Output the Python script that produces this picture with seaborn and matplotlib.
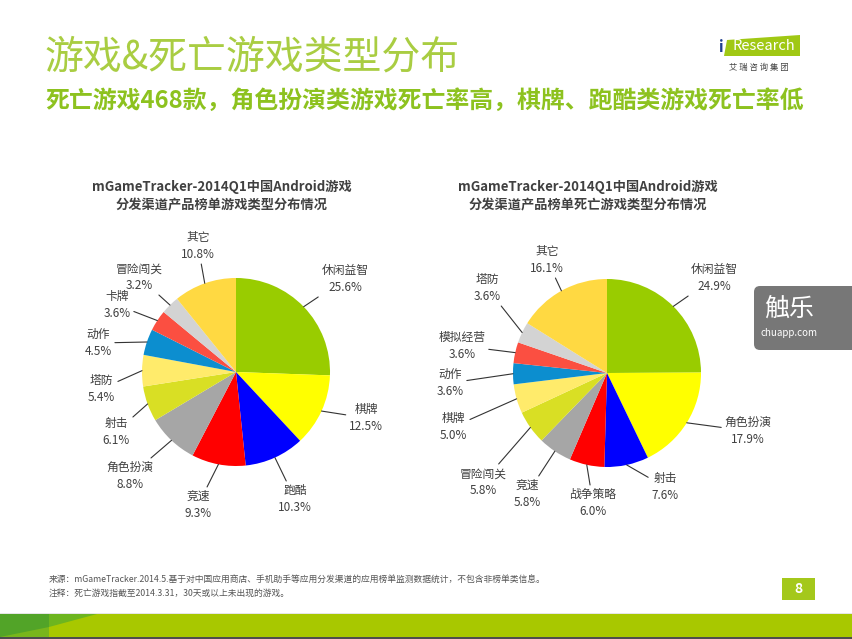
import numpy as np
import seaborn as sns
import matplotlib.pyplot as plt
from matplotlib.patches import Rectangle, Polygon, FancyBboxPatch

# data
left_labels = ["休闲益智", "棋牌", "跑酷", "竞速", "角色扮演", "射击",
               "塔防", "动作", "卡牌", "冒险闯关", "其它"]
left_values = [25.6, 12.5, 10.3, 9.3, 8.8, 6.1, 5.4, 4.5, 3.6, 3.2, 10.8]

right_labels = ["休闲益智", "角色扮演", "射击", "战争策略", "竞速", "冒险闯关",
                "棋牌", "动作", "模拟经营", "塔防", "其它"]
right_values = [24.9, 17.9, 7.6, 6.0, 5.8, 5.8, 5.0, 3.6, 3.6, 3.6, 16.1]

slice_colors = ["#99cc00", "#ffff00", "#0000ff", "#ff0000", "#a6a6a6",
                "#d9df24", "#ffeb6b", "#0c8ecf", "#fb4f41", "#d3d3d3",
                "#ffd942"]

left_title = ["mGameTracker-2014Q1中国Android游戏", "分发渠道产品榜单游戏类型分布情况"]
right_title = ["mGameTracker-2014Q1中国Android游戏", "分发渠道产品榜单死亡游戏类型分布情况"]

# label anchor positions in pixels (top-left origin)
left_label_pos = [(345, 279), (366, 418), (295, 499), (198, 505), (130, 476),
                  (116, 432), (101, 389), (98, 343), (117, 305), (139, 277),
                  (198, 246)]
right_label_pos = [(714, 278), (748, 431), (665, 487), (593, 503), (527, 494),
                   (483, 482), (453, 427), (450, 383), (462, 346), (487, 288),
                   (547, 260)]

W, H = 852, 639
TXT = "#404040"


def draw_pie(ax, values, labels, center, radius, label_pos, title, title_x):
    wedges, _ = ax.pie(values, colors=sns.color_palette(slice_colors),
                       center=center, radius=radius, startangle=-90,
                       counterclock=True, wedgeprops=dict(linewidth=0))
    for w, name, v, pos in zip(wedges, labels, values, label_pos):
        theta = np.deg2rad((w.theta1 + w.theta2) / 2)
        edge = (center[0] + radius * np.cos(theta),
                center[1] + radius * np.sin(theta))
        ax.annotate("{}\n{:.1f}%".format(name, v), xy=edge, xytext=pos,
                    ha="center", va="center", fontsize=8.5, color=TXT,
                    linespacing=1.35,
                    arrowprops=dict(arrowstyle="-", color="#333333", lw=0.8,
                                    shrinkA=0, shrinkB=0))
    ax.text(title_x, 187, title[0], ha="center", va="center", fontsize=9.5,
            color=TXT, fontweight="bold")
    ax.text(title_x, 205, title[1], ha="center", va="center", fontsize=9.5,
            color=TXT, fontweight="bold")


def main():
    sns.set_theme(style="white")
    plt.rcParams["font.family"] = ["Noto Sans CJK SC", "DejaVu Sans"]

    fig = plt.figure(figsize=(W / 100, H / 100), dpi=100)
    ax = fig.add_axes([0, 0, 1, 1])

    draw_pie(ax, left_values, left_labels, (236, 372), 94, left_label_pos,
             left_title, 222)
    draw_pie(ax, right_values, right_labels, (607, 373), 94, right_label_pos,
             right_title, 588)

    ax.set_xlim(0, W)
    ax.set_ylim(H, 0)
    ax.set_aspect("equal")
    ax.axis("off")

    # headline
    ax.text(45, 57, "游戏&死亡游戏类型分布", fontsize=28, color="#a9cd42",
            ha="left", va="center", fontweight="light")
    ax.text(45, 101, "死亡游戏468款，角色扮演类游戏死亡率高，棋牌、跑酷类游戏死亡率低",
            fontsize=17.2, color="#8dc21f", fontweight="bold",
            ha="left", va="center")

    # iResearch logo
    ax.add_patch(Polygon([(727, 40), (800, 35), (800, 56), (724, 56)],
                         closed=True, color="#a0c814", lw=0))
    ax.text(721, 47, "i", fontsize=11, color="#1f3f8f", ha="center",
            va="center", fontweight="bold")
    ax.text(764, 46, "Research", fontsize=10.5, color="white", ha="center",
            va="center")
    ax.text(759, 67, "艾 瑞 咨 询 集 团", fontsize=6, color="#444444",
            ha="center", va="center")

    # watermark
    ax.add_patch(FancyBboxPatch((754, 286), 110, 64,
                                boxstyle="round,pad=0,rounding_size=6",
                                color="#707070", alpha=0.95, lw=0))
    ax.text(789, 309, "触乐", fontsize=18, color="white", ha="center",
            va="center")
    ax.text(789, 333, "chuapp.com", fontsize=7, color="white", ha="center",
            va="center")

    # footer
    ax.text(49, 580, "来源：mGameTracker.2014.5.基于对中国应用商店、手机助手等应用分发渠道的应用榜单监测数据统计，不包含非榜单类信息。",
            fontsize=6.3, color="#555555", ha="left", va="center")
    ax.text(49, 593, "注释：死亡游戏指截至2014.3.31，30天或以上未出现的游戏。",
            fontsize=6.3, color="#555555", ha="left", va="center")
    ax.add_patch(Rectangle((782, 578), 33, 22, color="#a4c81b", lw=0))
    ax.text(798.5, 589, "8", fontsize=10, color="white", ha="center",
            va="center", fontweight="bold")

    # bottom band
    ax.add_patch(Rectangle((0, 613), W, 1, color="#e6e6e6", lw=0))
    ax.add_patch(Rectangle((0, 614), W, 23, color="#a8c800", lw=0))
    ax.add_patch(Rectangle((0, 614), 49, 23, color="#52a428", lw=0))
    ax.add_patch(Polygon([(0, 637), (49, 627), (49, 637)], closed=True,
                         color="#78b61c", lw=0))
    ax.add_patch(Polygon([(49, 614), (97, 614), (49, 627)], closed=True,
                         color="#6db51f", lw=0))
    ax.add_patch(Rectangle((0, 637), W, 2, color="#4d4d4d", lw=0))

    fig.savefig("out.png", dpi=100)


if __name__ == "__main__":
    main()
